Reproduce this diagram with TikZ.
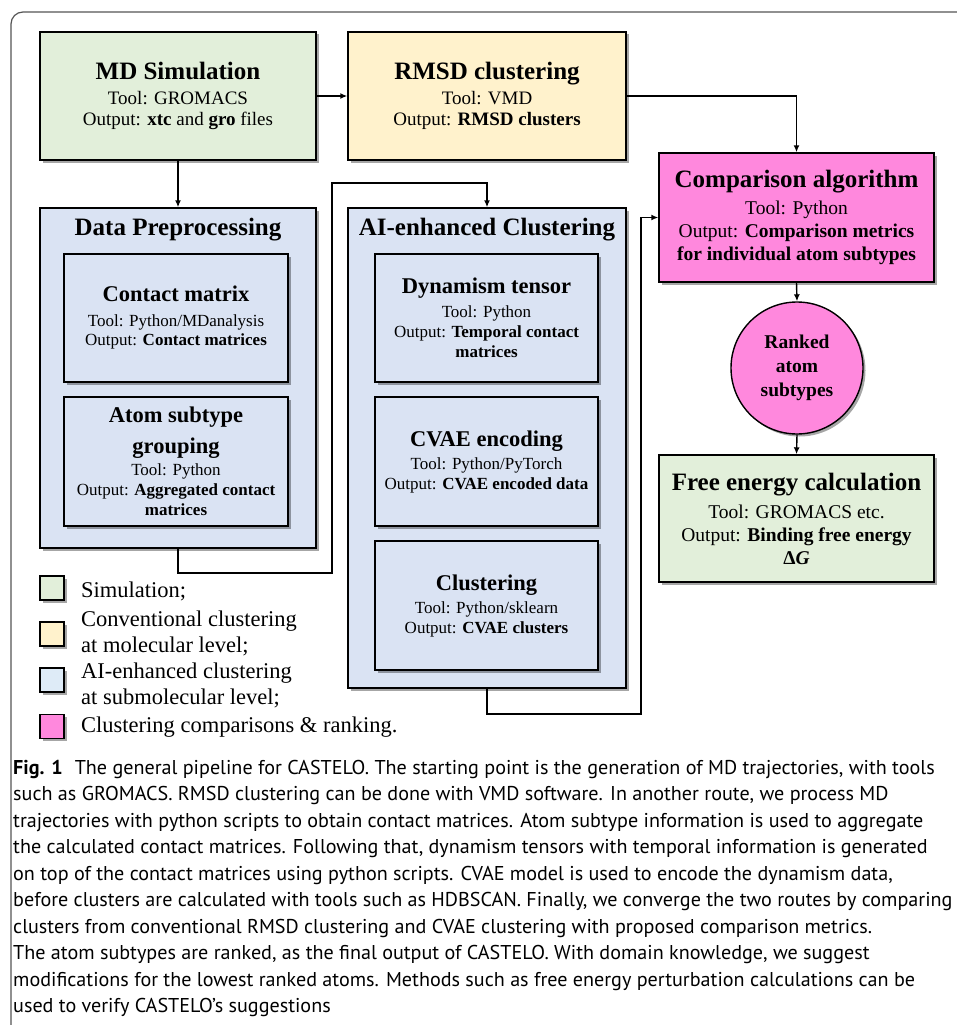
\documentclass[tikz,border=0pt]{standalone}
\usepackage{fontspec}
\setmainfont{Liberation Serif}
\newfontfamily\capfont[FakeStretch=1.006]{PT Sans}
\usetikzlibrary{arrows.meta,shadows}
\definecolor{cgreen}{HTML}{E2EFDA}
\definecolor{cyellow}{HTML}{FFF2CC}
\definecolor{cblue}{HTML}{DAE3F3}
\definecolor{clegblue}{HTML}{DEEBF7}
\definecolor{cpink}{HTML}{FF88DD}
\definecolor{cframe}{HTML}{555555}
\newcommand\ttl[1]{{\fontsize{25}{29}\selectfont\bfseries #1}}
\newcommand\sttl[1]{{\fontsize{22.5}{27}\selectfont\bfseries #1}}
\begin{document}
\begin{tikzpicture}[x=1pt,y=-1pt,
  box/.style={draw=black,line width=1.4pt,rectangle,inner sep=0pt,align=center,
    drop shadow={shadow xshift=2.5pt,shadow yshift=-2.5pt,opacity=0.35,fill=black}},
  mainbox/.style={box,minimum width=276pt,minimum height=128pt,font=\fontsize{19}{21}\selectfont},
  sidebox/.style={box,minimum width=275pt,minimum height=128pt,font=\fontsize{19.5}{23}\selectfont},
  subbox/.style={box,fill=cblue,minimum width=224pt,minimum height=128pt,font=\fontsize{17}{20}\selectfont},
  secbox/.style={box,fill=cblue},
  sectitle/.style={font=\fontsize{25}{29}\selectfont\bfseries,inner sep=0pt},
  legsq/.style={box,minimum width=24pt,minimum height=24pt},
  legtxt/.style={anchor=west,align=left,inner sep=0pt,font=\fontsize{22.5}{26}\selectfont},
  arr/.style={-{Latex[length=7pt,width=6pt]},line width=1.4pt},
  conn/.style={line width=1.4pt}]
\useasboundingbox (0,0) rectangle (957,1025);
\fill[white] (0,0) rectangle (957,1025);
% outer frame
\draw[cframe,line width=1.2pt,rounded corners=12pt] (11,1030) -- (11,12) -- (965,12);

% top row
\node[mainbox,fill=cgreen] (md) at (178,96)
  {\ttl{MD Simulation}\\[4pt] Tool: GROMACS\\ Output: \textbf{xtc} and \textbf{gro} files};
\node[mainbox,fill=cyellow,minimum width=278pt] (rmsd) at (487,96)
  {\ttl{RMSD clustering}\\[4pt] Tool: VMD\\ Output: \textbf{RMSD clusters}};

% right column
\node[sidebox,fill=cpink,minimum height=129pt] (cmp) at (796.5,217.5)
  {\ttl{Comparison algorithm}\\[4pt] Tool: Python\\ Output: \textbf{Comparison metrics}\\ \textbf{for individual atom subtypes}};
\node[box,circle,fill=cpink,minimum size=132pt,font=\fontsize{19.5}{24}\selectfont\bfseries] (rank) at (797,368)
  {Ranked\\atom\\subtypes};
\node[sidebox,fill=cgreen,minimum height=127pt] (fe) at (796.5,518.5)
  {\ttl{Free energy calculation}\\[5pt] Tool: GROMACS etc.\\ Output: \textbf{Binding free energy}\\ \textbf{Δ\textit{G}}};

% data preprocessing
\node[secbox,minimum width=276pt,minimum height=340pt] (dp) at (178,378) {};
\node[sectitle] (dpt) at (178,230) {Data Preprocessing};
\node[subbox] (cm) at (176,318)
  {\sttl{Contact matrix}\\[4pt] Tool: Python/MDanalysis\\ Output: \textbf{Contact matrices}};
\node[subbox,minimum height=129pt] (asg) at (176,461.5)
  {\sttl{Atom subtype}\\[9pt] \sttl{grouping}\\[2pt] Tool: Python\\ Output: \textbf{Aggregated contact}\\ \textbf{matrices}};

% AI-enhanced clustering
\node[secbox,minimum width=278pt,minimum height=480pt] (ai) at (487,448) {};
\node[sectitle] (ait) at (487,230) {AI-enhanced Clustering};
\node[subbox,minimum width=223pt] (dyn) at (486.5,318)
  {\sttl{Dynamism tensor}\\[4pt] Tool: Python\\ Output: \textbf{Temporal contact}\\ \textbf{matrices}};
\node[subbox,minimum width=223pt,minimum height=129pt] (cvae) at (486.5,461.5)
  {\sttl{CVAE encoding}\\[3pt] Tool: Python/PyTorch\\ Output: \textbf{CVAE encoded data}};
\node[subbox,minimum width=223pt,minimum height=129pt] (clu) at (486.5,605.5)
  {\sttl{Clustering}\\[3pt] Tool: Python/sklearn\\ Output: \textbf{CVAE clusters}};

% connectors
\coordinate (j2) at (332,573);
\coordinate (j3) at (332,183);
\coordinate (k1) at (641,714);
\draw[arr] (md.east) -- (rmsd.west);
\draw[arr] (rmsd.east) -| (cmp.north);
\draw[arr] (md.south) -- (dp.north);
\draw[arr] (dp.south) |- (j2) -- (j3) -| (ai.north);
\draw[arr] (ai.south) |- (k1) |- (cmp.west);
\draw[arr] (cmp.south) -- (rank.north);
\draw[arr] (rank.south) -- (fe.north);

% legend
\node[legsq,fill=cgreen] (l1) at (52,588) {};
\node[legsq,fill=cyellow] (l2) at (52,634) {};
\node[legsq,fill=clegblue] (l3) at (52,680) {};
\node[legsq,fill=cpink] (l4) at (52,726.5) {};
\node[legtxt] (t1) at (81,591) {Simulation;};
\node[legtxt] (t2) at (81,633) {Conventional clustering\\at molecular level;};
\node[legtxt] (t3) at (81,685) {AI-enhanced clustering\\at submolecular level;};
\node[legtxt] (t4) at (81,727) {Clustering comparisons \& ranking.};

% caption
\node[anchor=north west,align=left,inner sep=0pt,font=\capfont\fontsize{20}{26.5}\selectfont] (cap) at (13,760)
{\textbf{Fig. 1}\hspace{0.6em}The general pipeline for CASTELO. The starting point is the generation of MD trajectories, with tools\\
such as GROMACS. RMSD clustering can be done with VMD software. In another route, we process MD\\
trajectories with python scripts to obtain contact matrices. Atom subtype information is used to aggregate\\
the calculated contact matrices. Following that, dynamism tensors with temporal information is generated\\
on top of the contact matrices using python scripts. CVAE model is used to encode the dynamism data,\\
before clusters are calculated with tools such as HDBSCAN. Finally, we converge the two routes by comparing\\
clusters from conventional RMSD clustering and CVAE clustering with proposed comparison metrics.\\
The atom subtypes are ranked, as the final output of CASTELO. With domain knowledge, we suggest\\
modifications for the lowest ranked atoms. Methods such as free energy perturbation calculations can be\\
used to verify CASTELO’s suggestions};
\end{tikzpicture}
\end{document}
